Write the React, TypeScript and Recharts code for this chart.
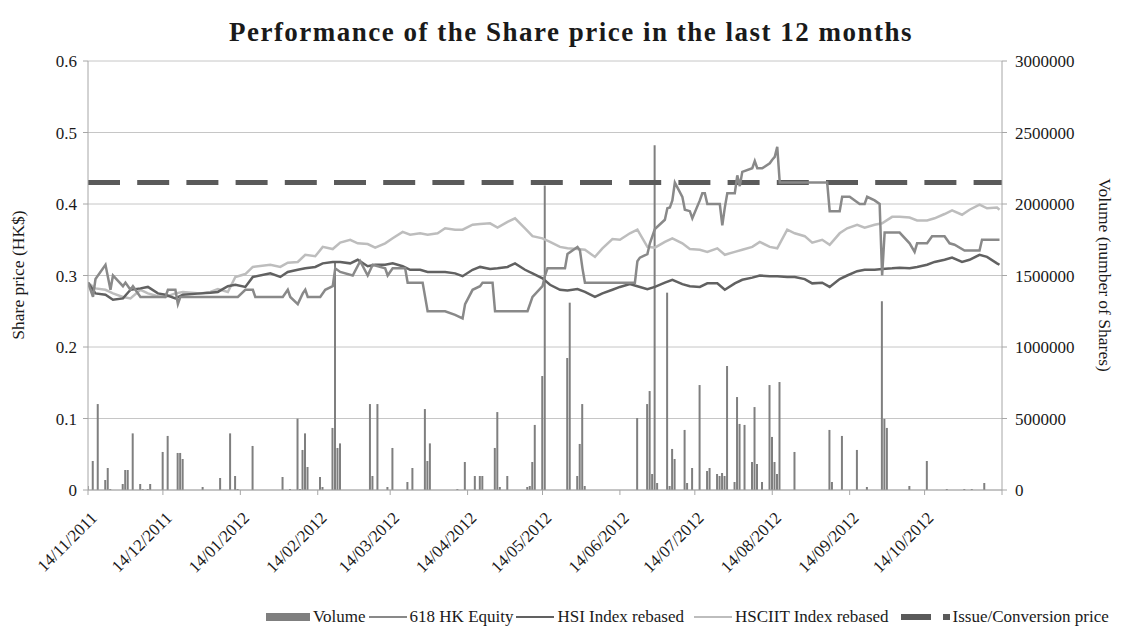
import React from 'react';
import { ComposedChart, Line, Bar, XAxis, YAxis, CartesianGrid, ReferenceLine } from 'recharts';

// 618 HK Equity closing prices (HK$)
const equityDates = [
  '14/11/2011', '16/11/2011', '17/11/2011', '21/11/2011', '23/11/2011', '24/11/2011', '28/11/2011', '29/11/2011',
  '01/12/2011', '02/12/2011', '05/12/2011', '15/12/2011', '16/12/2011', '19/12/2011', '20/12/2011', '21/12/2011',
  '13/01/2012', '16/01/2012', '19/01/2012', '20/01/2012', '31/01/2012', '02/02/2012', '03/02/2012', '06/02/2012',
  '08/02/2012', '09/02/2012', '10/02/2012', '15/02/2012', '17/02/2012', '20/02/2012', '21/02/2012', '23/02/2012',
  '28/02/2012', '02/03/2012', '05/03/2012', '07/03/2012', '12/03/2012', '13/03/2012', '15/03/2012', '20/03/2012',
  '21/03/2012', '27/03/2012', '29/03/2012', '05/04/2012', '09/04/2012', '12/04/2012', '13/04/2012', '16/04/2012',
  '19/04/2012', '20/04/2012', '24/04/2012', '25/04/2012', '08/05/2012', '10/05/2012', '14/05/2012', '15/05/2012',
  '16/05/2012', '23/05/2012', '24/05/2012', '28/05/2012', '29/05/2012', '30/05/2012', '31/05/2012', '20/06/2012',
  '21/06/2012', '22/06/2012', '25/06/2012', '26/06/2012', '28/06/2012', '02/07/2012', '03/07/2012', '04/07/2012',
  '05/07/2012', '06/07/2012', '09/07/2012', '10/07/2012', '12/07/2012', '13/07/2012', '16/07/2012', '17/07/2012',
  '18/07/2012', '19/07/2012', '24/07/2012', '25/07/2012', '26/07/2012', '27/07/2012', '30/07/2012', '31/07/2012',
  '01/08/2012', '02/08/2012', '06/08/2012', '07/08/2012', '08/08/2012', '10/08/2012', '13/08/2012', '14/08/2012',
  '15/08/2012', '16/08/2012', '17/08/2012', '05/09/2012', '06/09/2012', '10/09/2012', '11/09/2012', '14/09/2012',
  '18/09/2012', '20/09/2012', '21/09/2012', '24/09/2012', '26/09/2012', '27/09/2012', '28/09/2012', '04/10/2012',
  '08/10/2012', '10/10/2012', '11/10/2012', '15/10/2012', '17/10/2012', '22/10/2012', '24/10/2012', '26/10/2012',
  '30/10/2012', '05/11/2012', '06/11/2012', '13/11/2012',
];
const equityPrices = [
  0.29, 0.27, 0.295, 0.315, 0.28, 0.3, 0.285, 0.29,
  0.28, 0.285, 0.27, 0.27, 0.28, 0.28, 0.26, 0.27,
  0.27, 0.28, 0.28, 0.27, 0.27, 0.28, 0.27, 0.26,
  0.275, 0.28, 0.27, 0.27, 0.28, 0.285, 0.31, 0.305,
  0.3, 0.32, 0.3, 0.315, 0.31, 0.3, 0.31, 0.31,
  0.29, 0.29, 0.25, 0.25, 0.245, 0.24, 0.26, 0.28,
  0.285, 0.29, 0.29, 0.25, 0.25, 0.27, 0.285, 0.3,
  0.31, 0.31, 0.33, 0.34, 0.335, 0.31, 0.29, 0.29,
  0.32, 0.325, 0.33, 0.345, 0.365, 0.378, 0.394, 0.395,
  0.405, 0.43, 0.41, 0.392, 0.39, 0.38, 0.405, 0.415,
  0.415, 0.4, 0.4, 0.37, 0.395, 0.415, 0.415, 0.44,
  0.425, 0.445, 0.45, 0.46, 0.45, 0.45, 0.457, 0.462,
  0.466, 0.48, 0.43, 0.43, 0.39, 0.39, 0.41, 0.41,
  0.4, 0.4, 0.41, 0.405, 0.4, 0.3, 0.36, 0.36,
  0.345, 0.333, 0.345, 0.345, 0.355, 0.355, 0.345, 0.343,
  0.335, 0.335, 0.35, 0.35,
];

// index samples (rebased to the share price)
const indexDates = [
  '14/11/2011', '17/11/2011', '21/11/2011', '24/11/2011', '28/11/2011',
  '01/12/2011', '05/12/2011', '08/12/2011', '12/12/2011', '15/12/2011', '19/12/2011', '22/12/2011', '29/12/2011',
  '02/01/2012', '05/01/2012', '09/01/2012', '12/01/2012', '16/01/2012', '19/01/2012', '26/01/2012', '30/01/2012',
  '02/02/2012', '06/02/2012', '09/02/2012', '13/02/2012', '16/02/2012', '20/02/2012', '23/02/2012', '27/02/2012',
  '01/03/2012', '05/03/2012', '08/03/2012', '12/03/2012', '15/03/2012', '19/03/2012', '22/03/2012', '26/03/2012', '29/03/2012',
  '02/04/2012', '05/04/2012', '09/04/2012', '12/04/2012', '16/04/2012', '19/04/2012', '23/04/2012', '26/04/2012', '30/04/2012',
  '03/05/2012', '07/05/2012', '10/05/2012', '14/05/2012', '17/05/2012', '21/05/2012', '24/05/2012', '28/05/2012', '31/05/2012',
  '04/06/2012', '07/06/2012', '11/06/2012', '14/06/2012', '18/06/2012', '21/06/2012', '25/06/2012', '28/06/2012',
  '02/07/2012', '05/07/2012', '09/07/2012', '12/07/2012', '16/07/2012', '19/07/2012', '23/07/2012', '26/07/2012', '30/07/2012',
  '02/08/2012', '06/08/2012', '09/08/2012', '13/08/2012', '16/08/2012', '20/08/2012', '23/08/2012', '27/08/2012', '30/08/2012',
  '03/09/2012', '06/09/2012', '10/09/2012', '13/09/2012', '17/09/2012', '20/09/2012', '24/09/2012', '27/09/2012',
  '01/10/2012', '04/10/2012', '08/10/2012', '11/10/2012', '15/10/2012', '18/10/2012', '22/10/2012', '25/10/2012', '29/10/2012',
  '01/11/2012', '05/11/2012', '08/11/2012', '12/11/2012', '13/11/2012',
];
const hsiRebased = [
  0.29, 0.275, 0.273, 0.266, 0.268,
  0.28, 0.282, 0.284, 0.275, 0.273, 0.268, 0.273, 0.275,
  0.276, 0.277, 0.285, 0.287, 0.284, 0.298, 0.303, 0.298,
  0.305, 0.308, 0.31, 0.312, 0.317, 0.319, 0.319, 0.317,
  0.322, 0.313, 0.315, 0.315, 0.317, 0.313, 0.308, 0.308, 0.305,
  0.305, 0.305, 0.303, 0.299, 0.308, 0.312, 0.309, 0.31, 0.312,
  0.317, 0.308, 0.303, 0.296, 0.287, 0.28, 0.279, 0.281, 0.277,
  0.27, 0.275, 0.28, 0.284, 0.288, 0.285, 0.281, 0.284,
  0.29, 0.294, 0.288, 0.285, 0.284, 0.289, 0.289, 0.28, 0.289,
  0.294, 0.297, 0.3, 0.299, 0.299, 0.298, 0.298, 0.295, 0.289,
  0.29, 0.284, 0.295, 0.3, 0.306, 0.308, 0.308, 0.309,
  0.31, 0.311, 0.31, 0.312, 0.315, 0.319, 0.322, 0.325, 0.319,
  0.322, 0.329, 0.326, 0.317, 0.315,
];
const hsciitRebased = [
  0.29, 0.282, 0.28, 0.275, 0.27,
  0.268, 0.28, 0.275, 0.271, 0.27, 0.275, 0.277, 0.275,
  0.277, 0.281, 0.277, 0.298, 0.302, 0.312, 0.315, 0.312,
  0.318, 0.319, 0.329, 0.327, 0.34, 0.337, 0.346, 0.35,
  0.345, 0.344, 0.339, 0.345, 0.352, 0.361, 0.357, 0.359, 0.357,
  0.359, 0.366, 0.364, 0.364, 0.371, 0.372, 0.373, 0.367, 0.375,
  0.38, 0.366, 0.355, 0.352, 0.347, 0.34, 0.338, 0.337, 0.336,
  0.326, 0.338, 0.351, 0.35, 0.359, 0.364, 0.34, 0.339,
  0.347, 0.352, 0.345, 0.337, 0.336, 0.333, 0.338, 0.329, 0.333,
  0.336, 0.34, 0.347, 0.34, 0.338, 0.364, 0.359, 0.355, 0.346,
  0.35, 0.343, 0.359, 0.366, 0.371, 0.367, 0.371, 0.373,
  0.382, 0.382, 0.381, 0.377, 0.377, 0.38, 0.386, 0.391, 0.385,
  0.392, 0.399, 0.394, 0.395, 0.392,
];

// daily traded volume (number of shares)
const volumeDates = [
  '14/11/2011', '16/11/2011', '18/11/2011', '21/11/2011', '22/11/2011', '23/11/2011', '28/11/2011', '29/11/2011',
  '30/11/2011', '02/12/2011', '05/12/2011', '06/12/2011', '08/12/2011', '09/12/2011', '14/12/2011', '16/12/2011',
  '20/12/2011', '21/12/2011', '22/12/2011', '30/12/2011', '06/01/2012', '10/01/2012', '12/01/2012', '13/01/2012',
  '19/01/2012', '31/01/2012', '03/02/2012', '06/02/2012', '07/02/2012', '08/02/2012', '09/02/2012', '10/02/2012',
  '15/02/2012', '16/02/2012', '20/02/2012', '21/02/2012', '22/02/2012', '23/02/2012', '06/03/2012', '07/03/2012',
  '09/03/2012', '13/03/2012', '15/03/2012', '21/03/2012', '23/03/2012', '28/03/2012', '29/03/2012', '30/03/2012',
  '10/04/2012', '13/04/2012', '17/04/2012', '19/04/2012', '20/04/2012', '25/04/2012', '26/04/2012', '27/04/2012',
  '30/04/2012', '08/05/2012', '09/05/2012', '10/05/2012', '11/05/2012', '14/05/2012', '15/05/2012', '24/05/2012',
  '25/05/2012', '28/05/2012', '29/05/2012', '30/05/2012', '31/05/2012', '21/06/2012', '25/06/2012', '26/06/2012',
  '27/06/2012', '28/06/2012', '29/06/2012', '03/07/2012', '04/07/2012', '05/07/2012', '06/07/2012', '10/07/2012',
  '11/07/2012', '13/07/2012', '16/07/2012', '19/07/2012', '20/07/2012', '23/07/2012', '24/07/2012', '25/07/2012',
  '26/07/2012', '27/07/2012', '30/07/2012', '31/07/2012', '01/08/2012', '03/08/2012', '06/08/2012', '07/08/2012',
  '08/08/2012', '10/08/2012', '13/08/2012', '14/08/2012', '15/08/2012', '16/08/2012', '17/08/2012', '23/08/2012',
  '06/09/2012', '07/09/2012', '11/09/2012', '17/09/2012', '21/09/2012', '27/09/2012', '28/09/2012', '29/09/2012',
  '08/10/2012', '15/10/2012', '23/10/2012', '30/10/2012', '02/11/2012', '07/11/2012',
];
const volumes = [
  28000, 203000, 601000, 70000, 154000, 7000, 42000, 140000,
  140000, 396000, 42000, 7000, 7000, 42000, 266000, 378000,
  259000, 259000, 217000, 21000, 84000, 396000, 98000, 7000,
  308000, 91000, 7000, 499000, 7000, 280000, 396000, 161000,
  91000, 21000, 434000, 1600000, 294000, 326000, 601000, 98000,
  601000, 21000, 294000, 56000, 154000, 566000, 203000, 326000,
  7000, 196000, 98000, 98000, 98000, 294000, 545000, 21000,
  98000, 21000, 28000, 196000, 455000, 797000, 2130000, 923000,
  1310000, 98000, 322000, 601000, 28000, 503000, 601000, 692000,
  112000, 2410000, 49000, 1380000, 28000, 287000, 217000, 420000,
  49000, 154000, 734000, 133000, 154000, 112000, 98000, 119000,
  98000, 867000, 56000, 650000, 462000, 455000, 196000, 580000,
  182000, 56000, 734000, 371000, 196000, 112000, 755000, 266000,
  420000, 56000, 378000, 280000, 21000, 1320000, 497000, 434000,
  28000, 203000, 7000, 7000, 7000, 49000,
];

const issuePrice = 0.43;

const monthLabels = [
  '14/11/2011', '14/12/2011', '14/01/2012', '14/02/2012', '14/03/2012', '14/04/2012',
  '14/05/2012', '14/06/2012', '14/07/2012', '14/08/2012', '14/09/2012', '14/10/2012',
];
const axisEnd = '14/11/2012';
const priceTicks = [0, 0.1, 0.2, 0.3, 0.4, 0.5, 0.6];
const volumeTicks = [0, 500000, 1000000, 1500000, 2000000, 2500000, 3000000];

const FONT = '"Liberation Serif", "DejaVu Serif", serif';
const TEXT = '#1a1a1a';
const AXIS = '#a6a6a6';

const dayOf = (s: string) => {
  const [d, m, y] = s.split('/').map(Number);
  return Math.round((Date.UTC(y, m - 1, d) - Date.UTC(2011, 10, 14)) / 86400000);
};

type Row = { day: number; volume?: number; equity?: number; hsi?: number; hscii?: number };

const buildRows = (): Row[] => {
  const rows = new Map<number, Row>();
  const get = (s: string) => {
    const d = dayOf(s);
    if (!rows.has(d)) rows.set(d, { day: d });
    return rows.get(d)!;
  };
  volumeDates.forEach((s, i) => { get(s).volume = volumes[i]; });
  equityDates.forEach((s, i) => { get(s).equity = equityPrices[i]; });
  indexDates.forEach((s, i) => {
    const r = get(s);
    r.hsi = hsiRebased[i];
    r.hscii = hsciitRebased[i];
  });
  return Array.from(rows.values()).sort((a, b) => a.day - b.day);
};

const data = buildRows();
const tickDays = [...monthLabels, axisEnd].map(dayOf);
const labelByDay = new Map(monthLabels.map((s) => [dayOf(s), s]));

const DateTick = (props: any) => {
  const { x, y, payload } = props;
  const label = labelByDay.get(payload.value);
  if (!label) return null;
  const tx = x + 10;
  const ty = y + 22;
  return (
    <text x={tx} y={ty} transform={`rotate(-45, ${tx}, ${ty})`} textAnchor="end"
      fontSize={17} fontFamily={FONT} fill={TEXT}>
      {label}
    </text>
  );
};

const LegendItem = ({ swatch, label }: { swatch: React.ReactNode; label: string }) => (
  <div style={{ display: 'flex', alignItems: 'center' }}>
    {swatch}
    <span style={{ marginLeft: 3 }}>{label}</span>
  </div>
);

const lineSwatch = (color: string) => (
  <div style={{ width: 38, height: 2.5, background: color }} />
);

const App: React.FC = () => {
  return (
    <div style={{ position: 'absolute', left: 0, top: 0, width: 1123, height: 639, background: '#fff', fontFamily: FONT, color: TEXT }}>
      <div style={{ position: 'absolute', left: 0, width: 1142, top: 16, textAlign: 'center', fontSize: 27, fontWeight: 'bold', lineHeight: '32px', letterSpacing: 1.5 }}>
        Performance of the Share price in the last 12 months
      </div>

      <ComposedChart width={1123} height={639} data={data}
        margin={{ top: 61, right: 0, bottom: 0, left: 0 }}>
        <CartesianGrid yAxisId="price" vertical={false} stroke="#c6c6c6" />
        <XAxis dataKey="day" type="number" domain={[0, dayOf(axisEnd)]} ticks={tickDays} interval={0}
          height={149} tick={<DateTick />} stroke={AXIS} tickSize={5} allowDataOverflow />
        <YAxis yAxisId="price" orientation="left" domain={[0, 0.6]} ticks={priceTicks} width={88}
          stroke={AXIS} tickSize={5} tickMargin={6}
          tick={{ fontSize: 17, fill: TEXT, fontFamily: FONT }} />
        <YAxis yAxisId="volume" orientation="right" domain={[0, 3000000]} ticks={volumeTicks} width={121}
          stroke={AXIS} tickSize={5} tickMargin={8}
          tick={{ fontSize: 17, fill: TEXT, fontFamily: FONT }} />

        <ReferenceLine yAxisId="price" y={issuePrice} stroke="#5a5a5a" strokeWidth={5} strokeDasharray="32 17.2" />

        <Line yAxisId="price" dataKey="hscii" name="HSCIIT Index rebased" stroke="#bdbdbd" strokeWidth={2.5}
          dot={false} connectNulls isAnimationActive={false} />
        <Line yAxisId="price" dataKey="hsi" name="HSI Index rebased" stroke="#616161" strokeWidth={2.5}
          dot={false} connectNulls isAnimationActive={false} />
        <Line yAxisId="price" dataKey="equity" name="618 HK Equity" stroke="#898989" strokeWidth={2.5}
          dot={false} connectNulls isAnimationActive={false} />
        <Bar yAxisId="volume" dataKey="volume" name="Volume" fill="#7f7f7f" barSize={2} isAnimationActive={false} />
      </ComposedChart>

      <div style={{ position: 'absolute', left: 18, top: 275, transform: 'translate(-50%, -50%) rotate(-90deg)', whiteSpace: 'nowrap', fontSize: 17.5 }}>
        Share price (HK$)
      </div>
      <div style={{ position: 'absolute', left: 1104, top: 275, transform: 'translate(-50%, -50%) rotate(90deg)', whiteSpace: 'nowrap', fontSize: 17.5 }}>
        Volume (number of Shares)
      </div>

      <div style={{ position: 'absolute', left: 266, top: 606, display: 'flex', alignItems: 'center', gap: 3, fontSize: 17, lineHeight: '22px', whiteSpace: 'nowrap' }}>
        <LegendItem label="Volume" swatch={<div style={{ width: 44, height: 8, background: '#7f7f7f' }} />} />
        <LegendItem label="618 HK Equity" swatch={lineSwatch('#898989')} />
        <LegendItem label="HSI Index rebased" swatch={lineSwatch('#616161')} />
        <div style={{ width: 4 }} />
        <LegendItem label="HSCIIT Index rebased" swatch={lineSwatch('#bdbdbd')} />
        <div style={{ width: 6 }} />
        <LegendItem label="Issue/Conversion price" swatch={
          <div style={{ display: 'flex', alignItems: 'center' }}>
            <div style={{ width: 30, height: 6, background: '#5a5a5a' }} />
            <div style={{ width: 12 }} />
            <div style={{ width: 7, height: 6, background: '#5a5a5a' }} />
          </div>
        } />
      </div>
    </div>
  );
};

export default App;
